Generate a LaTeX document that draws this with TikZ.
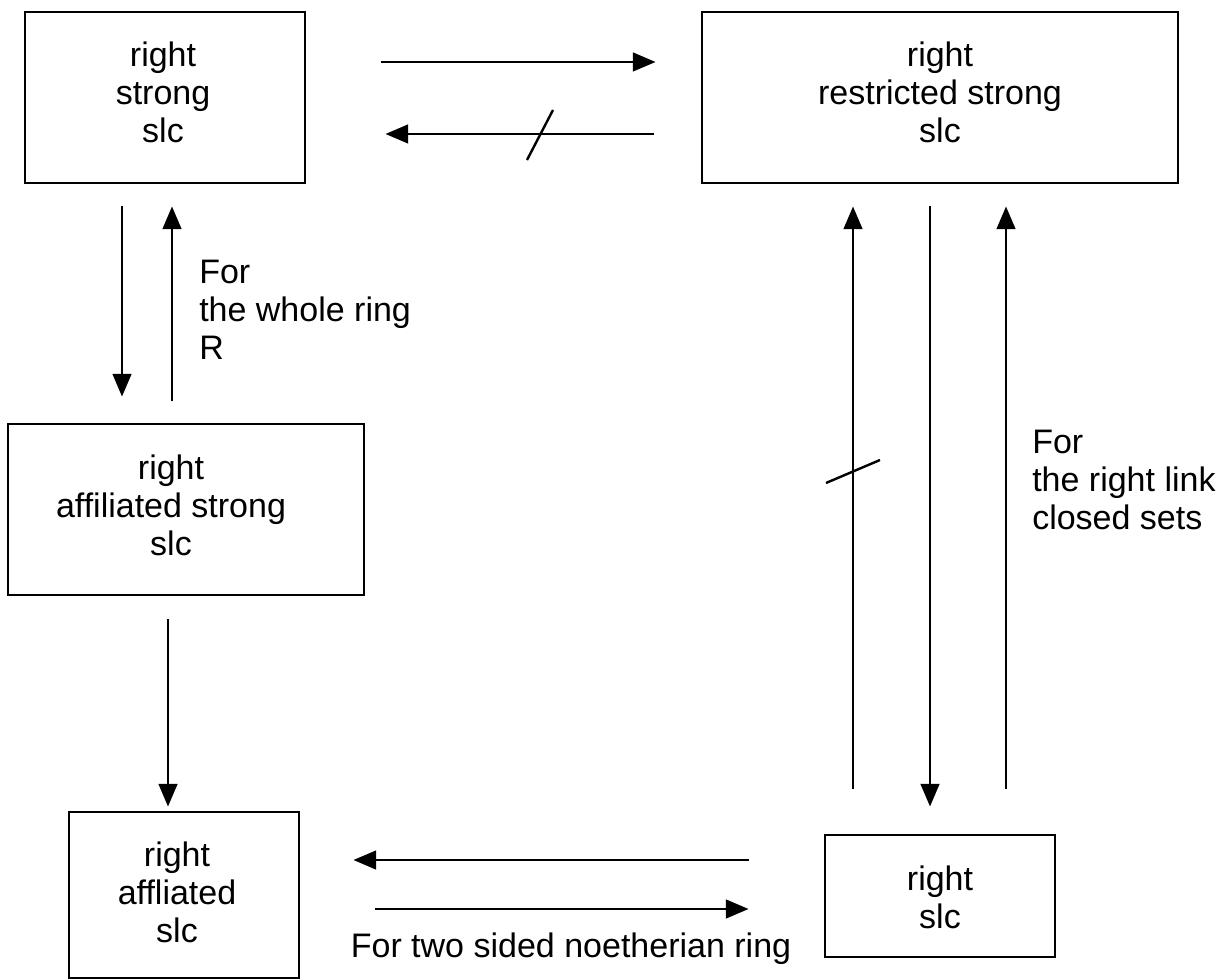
\documentclass[tikz,border=0pt]{standalone}
\usepackage{fontspec}
\setmainfont{Liberation Sans}
\usetikzlibrary{arrows.meta}
\begin{document}
\begin{tikzpicture}[x=0.75pt,y=-0.75pt,
  box/.style={draw,line width=2.2pt,minimum width=#1,inner sep=0pt},
  txt/.style={align=center,inner sep=0pt,font={\fontsize{25.5}{28.5}\selectfont}},
  lbl/.style={align=left,inner sep=0pt,font={\fontsize{25.5}{28.5}\selectfont}},
  arr/.style={line width=1.8pt,-{Triangle[length=17pt,width=14pt]}},
  slash/.style={line width=1.8pt}]
\useasboundingbox (0,0) rectangle (1222,980);
% boxes
\node[box=210pt,minimum height=128.25pt] (A) at (165,97.5) {};
\node[box=357pt,minimum height=128.25pt] (B) at (940,97.5) {};
\node[box=267pt,minimum height=128.25pt] (C) at (186,509.5) {};
\node[box=172.5pt,minimum height=124.5pt] (D) at (184,895) {};
\node[box=172.5pt,minimum height=91.5pt] (E) at (940,896) {};
% box texts
\node[txt] (At) at (163,92) {right\\strong\\slc};
\node[txt] (Bt) at (940,92) {right\\restricted strong\\slc};
\node[txt] (Ct) at (171,505) {right\\affiliated strong\\slc};
\node[txt] (Dt) at (177,892) {right\\affliated\\slc};
\node[txt] (Et) at (940,897) {right\\slc};
% labels
\node[lbl,anchor=west] (L1) at (199,310) {For\\the whole ring\\R};
\node[lbl,anchor=west] (L2) at (1032,480) {For\\the right link\\closed sets};
\node[txt] (L3) at (571,949) {For two sided noetherian ring};
% top arrows
\draw[arr,shorten <=56.25pt,shorten >=33.75pt] (A.east |- 0,62) -- (B.west |- 0,62);
\draw[arr,shorten <=35.25pt,shorten >=59.25pt] (B.west |- 0,134) -- (A.east |- 0,134);
\draw[slash] (527,160) -- (553,110);
% left vertical arrows
\draw[arr,shorten <=16.5pt,shorten >=19.5pt] (A.south -| 122,0) -- (C.north -| 122,0);
\draw[arr,shorten <=16.5pt,shorten >=16.5pt] (C.north -| 172,0) -- (A.south -| 172,0);
\draw[arr,shorten <=17.25pt,shorten >=3pt] (C.south -| 168,0) -- (D.north -| 168,0);
% right vertical arrows
\draw[arr,shorten <=33.75pt,shorten >=16.5pt] (E.north -| 853,0) -- (B.south -| 853,0);
\draw[slash] (826,483) -- (880,460);
\draw[arr,shorten <=16.5pt,shorten >=20.25pt] (B.south -| 930,0) -- (E.north -| 930,0);
\draw[arr,shorten <=33.75pt,shorten >=16.5pt] (E.north -| 1006,0) -- (B.south -| 1006,0);
% bottom arrows
\draw[arr,shorten <=56.25pt,shorten >=39.75pt] (E.west |- 0,860) -- (D.east |- 0,860);
\draw[arr,shorten <=56.25pt,shorten >=56.25pt] (D.east |- 0,909) -- (E.west |- 0,909);
\end{tikzpicture}
\end{document}
